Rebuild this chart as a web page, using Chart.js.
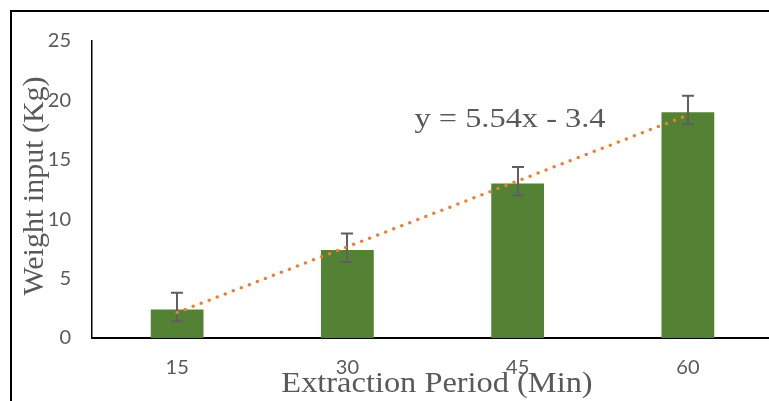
<!DOCTYPE html>
<html>
<head>
<meta charset="utf-8">
<script src="https://cdn.jsdelivr.net/npm/chart.js@4"></script>
<style>
  html, body { margin: 0; padding: 0; width: 769px; height: 401px; overflow: hidden; background: #fff; }
  #wrap { position: absolute; left: 0; top: 0; width: 776px; height: 401px; }
  #frame { position: absolute; left: 10px; top: 10px; width: 800px; height: 420px;
           border-top: 2px solid #000; border-left: 2px solid #000; pointer-events: none; }
</style>
</head>
<body>
<div id="wrap"><canvas id="c" width="776" height="401"></canvas></div>
<div id="frame"></div>
<script>
// Extraction period categories (minutes)
const periods = ['15', '30', '45', '60'];
// Mean weight input (kg) per period
const weights = [2.4, 7.4, 13.0, 19.0];
// Error bar extents above / below each mean
const errUp = [1.4, 1.4, 1.4, 1.4];
const errDown = [1.0, 1.0, 1.0, 1.0];
// Y axis ticks
const yTicks = [0, 5, 10, 15, 20, 25];
// Linear trendline: y = 5.54x - 3.4 (x = period index 1..4)
const trendSlope = 5.54;
const trendIntercept = -3.4;
const trendValues = periods.map((_, i) => trendSlope * (i + 1) + trendIntercept);

const TEXT_GREY = '#595959';

const errorBars = {
  id: 'errorBars',
  afterDatasetDraw(chart, args) {
    if (args.index !== 0) return;
    const { ctx } = chart;
    const y = chart.scales.y;
    const meta = chart.getDatasetMeta(0);
    ctx.save();
    ctx.strokeStyle = '#5f5f5f';
    ctx.lineWidth = 2;
    meta.data.forEach((bar, i) => {
      const x = Math.round(bar.x);
      const top = y.getPixelForValue(weights[i] + errUp[i]);
      const bot = y.getPixelForValue(weights[i] - errDown[i]);
      ctx.beginPath();
      ctx.moveTo(x, top); ctx.lineTo(x, bot);
      ctx.moveTo(x - 6, top); ctx.lineTo(x + 6, top);
      ctx.moveTo(x - 6, bot); ctx.lineTo(x + 6, bot);
      ctx.stroke();
    });
    ctx.restore();
  }
};

const annotations = {
  id: 'annotations',
  afterDraw(chart) {
    const { ctx } = chart;
    ctx.save();
    ctx.fillStyle = TEXT_GREY;

    // Y axis title
    ctx.save();
    ctx.translate(43, 186);
    ctx.rotate(-Math.PI / 2);
    ctx.font = '30px "Liberation Serif"';
    ctx.textAlign = 'center';
    ctx.textBaseline = 'alphabetic';
    ctx.fillText('Weight input (Kg)', 0, 0);
    ctx.restore();

    // X axis title
    ctx.save();
    ctx.translate(437, 392);
    ctx.scale(1.08, 1);
    ctx.font = '30px "Liberation Serif"';
    ctx.textAlign = 'center';
    ctx.textBaseline = 'alphabetic';
    ctx.fillText('Extraction Period (Min)', 0, 0);
    ctx.restore();

    // Trendline equation
    ctx.save();
    ctx.translate(510, 127);
    ctx.scale(1.2, 1);
    ctx.font = '27px "Liberation Serif"';
    ctx.textAlign = 'center';
    ctx.textBaseline = 'alphabetic';
    ctx.fillText('y = ' + trendSlope + 'x - ' + Math.abs(trendIntercept), 0, 0);
    ctx.restore();

    ctx.restore();
  }
};

new Chart(document.getElementById('c'), {
  type: 'bar',
  data: {
    labels: periods,
    datasets: [
      {
        type: 'bar',
        data: weights,
        backgroundColor: '#548235',
        borderWidth: 0,
        barPercentage: 0.31,
        categoryPercentage: 1,
        order: 2
      },
      {
        type: 'line',
        data: trendValues,
        borderColor: '#ED7D31',
        borderWidth: 3.5,
        borderDash: [0, 8.6],
        borderCapStyle: 'round',
        pointRadius: 0,
        fill: false,
        tension: 0,
        order: 1
      }
    ]
  },
  options: {
    responsive: false,
    animation: false,
    devicePixelRatio: 1,
    layout: { padding: { top: 41, right: 3, bottom: 0, left: 0 } },
    plugins: { legend: { display: false }, tooltip: { enabled: false } },
    scales: {
      x: {
        type: 'category',
        grid: { display: false, drawTicks: false },
        border: { display: true, color: '#000', width: 2 },
        ticks: { color: TEXT_GREY, font: { family: 'Lato', size: 20 }, padding: 18 },
        afterFit(scale) { scale.height = 63; }
      },
      y: {
        min: 0,
        max: 25,
        grid: { display: false, drawTicks: false },
        border: { display: true, color: '#000', width: 1.5 },
        afterBuildTicks(scale) { scale.ticks = yTicks.map(v => ({ value: v })); },
        ticks: { color: TEXT_GREY, font: { family: 'Lato', size: 20 }, padding: 21 },
        afterFit(scale) { scale.width = 92; }
      }
    }
  },
  plugins: [errorBars, annotations]
});
</script>
</body>
</html>
